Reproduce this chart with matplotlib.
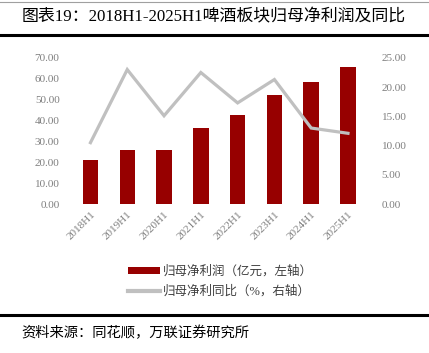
import matplotlib.pyplot as plt
from matplotlib.lines import Line2D

plt.rcParams['font.family'] = ['Liberation Serif', 'Noto Sans CJK SC']

periods = ['2018H1', '2019H1', '2020H1', '2021H1', '2022H1', '2023H1', '2024H1', '2025H1']
profit = [21.1, 25.9, 25.8, 36.4, 42.7, 52.1, 58.6, 65.8]       # 亿元, left axis
yoy = [10.5, 23.0, 15.1, 22.5, 17.3, 21.3, 13.0, 12.1]          # %, right axis

bar_color = '#970000'
line_color = '#c0c0c0'
tick_gray = '#7f7f7f'

fig = plt.figure(figsize=(4.29, 3.53), dpi=100)
ax1 = fig.add_axes([0.168, 0.422, 0.686, 0.414])
ax2 = ax1.twinx()

x = range(len(periods))
bars = ax1.bar(x, profit, width=0.42, color=bar_color, zorder=2)
ax2.plot(x, yoy, color=line_color, lw=2.3, solid_joinstyle='miter', zorder=3)

ax1.set_xlim(-0.5, len(periods) - 0.5)
ax1.set_ylim(0, 70)
ax2.set_ylim(0, 25)
ax1.set_yticks(range(0, 71, 10))
ax2.set_yticks(range(0, 26, 5))
ax1.set_yticklabels(['%.2f' % v for v in range(0, 71, 10)])
ax2.set_yticklabels(['%.2f' % v for v in range(0, 26, 5)])
ax1.set_xticks(list(x))
ax1.set_xticklabels(periods, rotation=45, ha='right', rotation_mode='anchor')

for ax in (ax1, ax2):
    for s in ax.spines.values():
        s.set_visible(False)
    ax.tick_params(length=0, labelsize=8, colors=tick_gray)
ax1.tick_params(axis='y', pad=9)
ax2.tick_params(axis='y', pad=11)
ax1.tick_params(axis='x', pad=4)
ax2.set_zorder(ax1.get_zorder() + 1)
ax2.patch.set_visible(False)

# legend
handles = [bars, Line2D([], [], color=line_color, lw=3)]
labels = ['归母净利润（亿元，左轴）', '归母净利同比（%，右轴）']
fig.legend(handles, labels, loc='upper left', bbox_to_anchor=(0.273, 0.28),
           frameon=False, fontsize=9, handlelength=2.55, handleheight=0.55,
           handletextpad=0.25, labelspacing=0.6, labelcolor='#404040')

# title and frame lines
fig.text(0.05, 0.95, '图表19：2018H1-2025H1啤酒板块归母净利润及同比',
         fontsize=12.2, va='center', ha='left', color='black')
fig.add_artist(Line2D([0, 1], [0.993, 0.993], color='#a0a0a0', lw=0.8))
fig.add_artist(Line2D([0, 1], [0.9, 0.9], color='black', lw=2.2))
fig.add_artist(Line2D([0, 1], [0.108, 0.108], color='black', lw=2.2))
fig.text(0.05, 0.058, '资料来源：同花顺，万联证券研究所',
         fontsize=10.3, va='center', ha='left', style='italic', color='black')

fig.savefig('out.png', dpi=100)
